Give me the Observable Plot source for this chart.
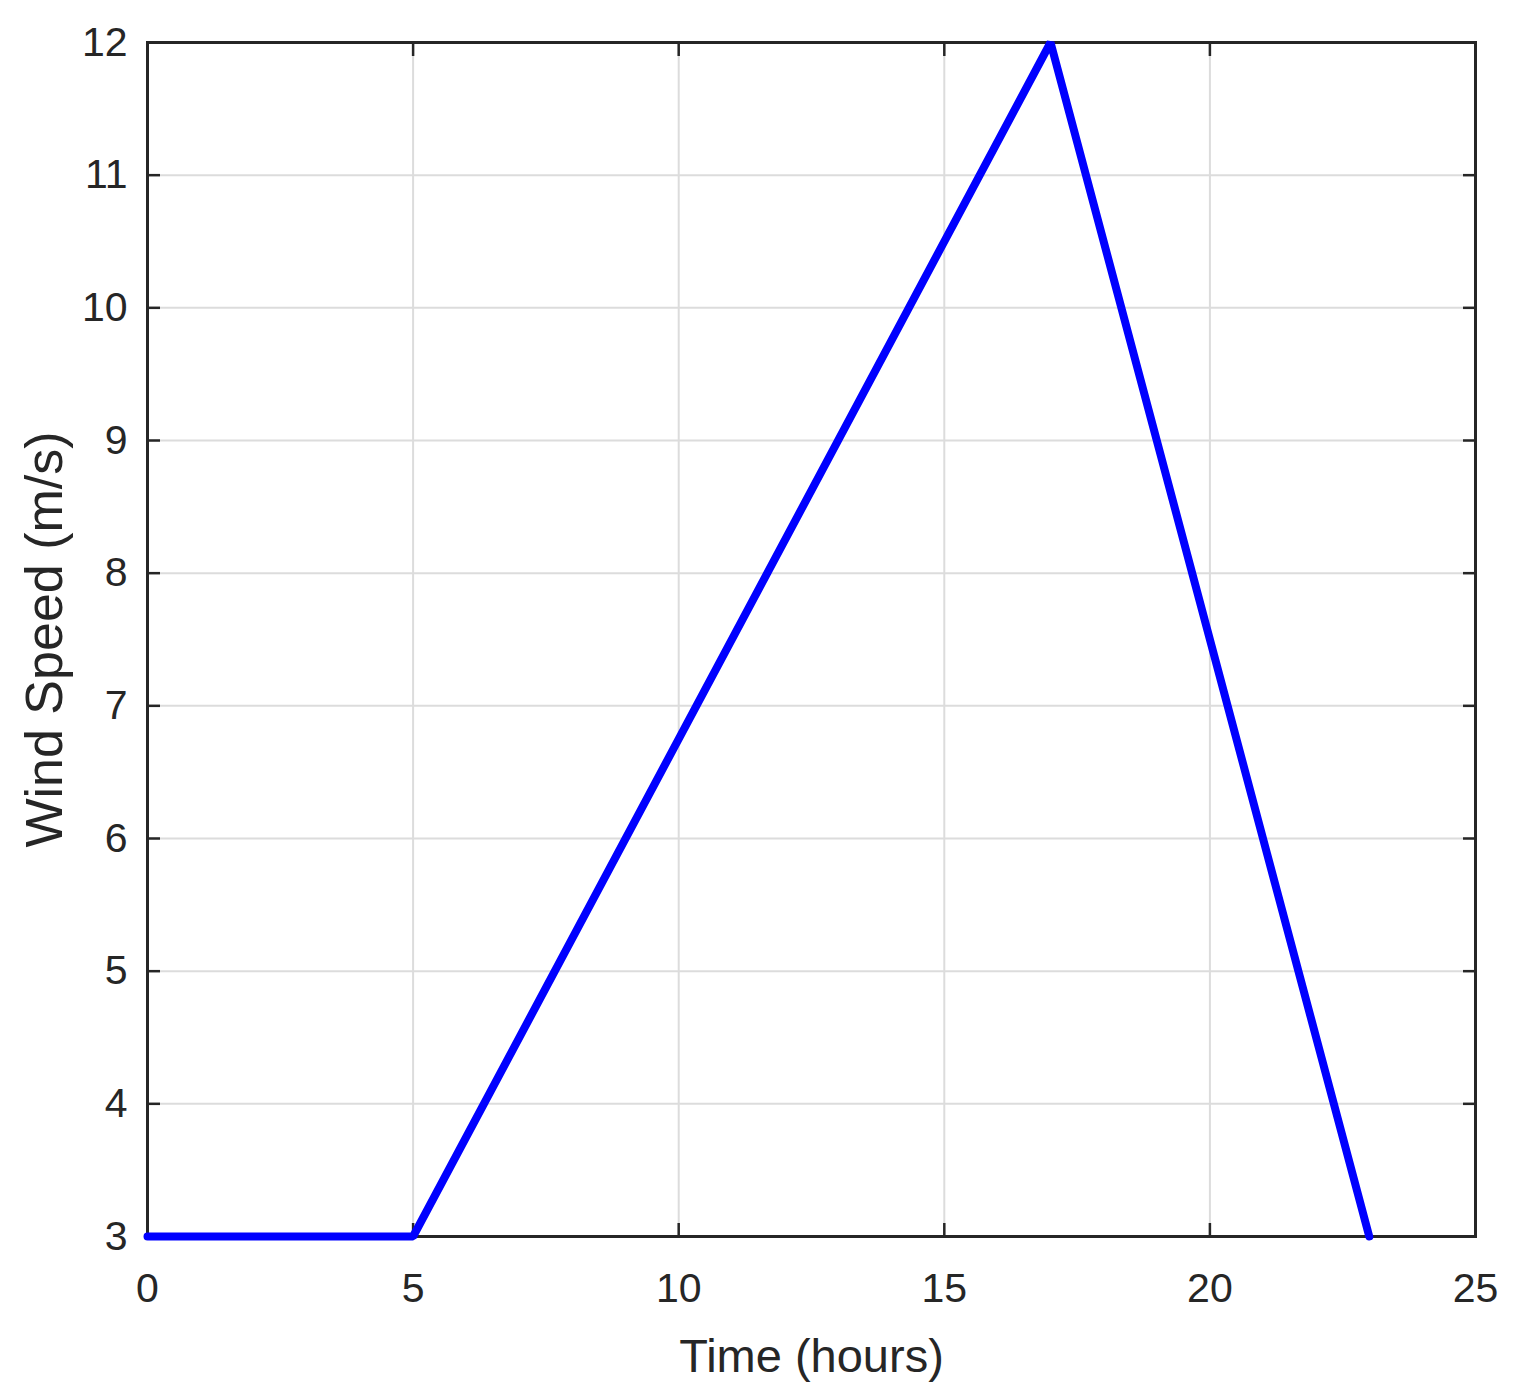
<!DOCTYPE html>
<html>
<head>
<meta charset="utf-8">
<script src="https://cdn.jsdelivr.net/npm/d3@7"></script>
<script src="https://cdn.jsdelivr.net/npm/@observablehq/plot@0.6"></script>
<style>
  html, body { margin: 0; padding: 0; background: #fff; }
  #chart svg { display: block; }
</style>
</head>
<body>
<div id="chart"></div>
<script>
const timeHours = [0, 5, 17, 23];
const windSpeed = [3, 3, 12, 3];
const xTicks = [0, 5, 10, 15, 20, 25];
const yTicks = [3, 4, 5, 6, 7, 8, 9, 10, 11, 12];
const xLabel = "Time (hours)";
const yLabel = "Wind Speed (m/s)";

const data = timeHours.map((t, i) => ({t, v: windSpeed[i]}));
const ink = "#262626";
const font = "'Liberation Sans', Arial, Helvetica, sans-serif";
const fmt = d3.format("d");

const chart = Plot.plot({
  width: 1513,
  height: 1400,
  marginLeft: 147,
  marginRight: 38,
  marginTop: 42,
  marginBottom: 164,
  style: {background: "#fff", color: ink, fontFamily: font},
  x: {domain: [0, 25], ticks: xTicks},
  y: {domain: [3, 12], ticks: yTicks},
  marks: [
    Plot.gridX(xTicks, {stroke: "#dcdcdc", strokeOpacity: 1, strokeWidth: 2}),
    Plot.gridY(yTicks, {stroke: "#dcdcdc", strokeOpacity: 1, strokeWidth: 2}),
    Plot.axisX(xTicks, {anchor: "bottom", tickSize: -13, tickPadding: 49, strokeWidth: 2.5, stroke: ink,
      tickFormat: fmt, fontSize: 41, fontFamily: font, fill: ink, label: null}),
    Plot.axisX(xTicks, {anchor: "top", tickSize: -13, strokeWidth: 2.5, stroke: ink, tickFormat: () => "", label: null}),
    Plot.axisY(yTicks, {anchor: "left", tickSize: -13, tickPadding: 33, strokeWidth: 2.5, stroke: ink,
      tickFormat: fmt, fontSize: 41, fontFamily: font, fill: ink, label: null}),
    Plot.axisY(yTicks, {anchor: "right", tickSize: -13, strokeWidth: 2.5, stroke: ink, tickFormat: () => "", label: null}),
    Plot.frame({stroke: ink, strokeWidth: 3}),
    Plot.line(data, {x: "t", y: "v", stroke: "#0000ff", strokeWidth: 8, strokeLinejoin: "miter"}),
    Plot.text([xLabel], {frameAnchor: "bottom", dy: 120, lineAnchor: "middle", textAnchor: "middle", text: d => d,
      fontSize: 47, fontFamily: font, fill: ink}),
    Plot.text([yLabel], {frameAnchor: "left", dx: -102, rotate: -90, lineAnchor: "middle", textAnchor: "middle", text: d => d,
      fontSize: 52, fontFamily: font, fill: ink})
  ]
});
document.getElementById("chart").appendChild(chart);
</script>
</body>
</html>
